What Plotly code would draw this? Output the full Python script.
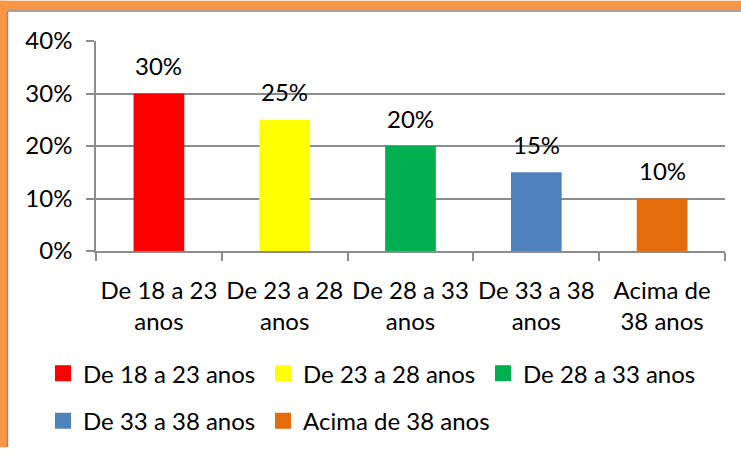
import plotly.graph_objects as go

categories = ["De 18 a 23 anos", "De 23 a 28 anos", "De 28 a 33 anos", "De 33 a 38 anos", "Acima de 38 anos"]
tick_labels = ["De 18 a 23<br>anos", "De 23 a 28<br>anos", "De 28 a 33<br>anos", "De 33 a 38<br>anos", "Acima de<br>38 anos"]
values = [0.30, 0.25, 0.20, 0.15, 0.10]
value_labels = ["30%", "25%", "20%", "15%", "10%"]
colors = ["#FF0000", "#FFFF00", "#00B050", "#4F81BD", "#E46C0A"]
legend_row = ["legend", "legend", "legend", "legend2", "legend2"]
legend_item_width = [None, None, 200, None, 200]
y_ticks = [0, 0.1, 0.2, 0.3, 0.4]
y_tick_labels = ["0%", "10%", "20%", "30%", "40%"]

W, H = 741, 455
ML, MR, MT, MB = 96, 16, 41, 200
PW, PH = W - ML - MR, H - MT - MB
FONT = "Lato"
FS = 24
GRID = "#8C8C8C"

def px2x(px):
    return (px - ML) / PW

def px2y(py):
    return (H - MB - py) / PH

fig = go.Figure()
for cat, lab, v, c in zip(categories, tick_labels, values, colors):
    fig.add_trace(go.Bar(x=[lab], y=[v], name=cat, marker=dict(color=c, line=dict(width=0)),
                         showlegend=False, hoverinfo="skip"))

# legend entries (square swatches)
for cat, c, lg, lw in zip(categories, colors, legend_row, legend_item_width):
    fig.add_trace(go.Scatter(x=[None], y=[None], mode="markers", name=cat, legend=lg,
                             legendwidth=lw,
                             marker=dict(symbol="square", size=16, color=c, line=dict(width=0)),
                             showlegend=True, hoverinfo="skip"))

for lab, v, t in zip(tick_labels, values, value_labels):
    fig.add_annotation(x=lab, y=v, text=t, showarrow=False, yanchor="middle",
                       yshift=28, font=dict(family=FONT, size=FS, color="#000000"))

shapes = [
    dict(type="rect", xref="paper", yref="paper", x0=px2x(0), x1=px2x(W), y0=px2y(10), y1=px2y(0),
         fillcolor="#F79646", line=dict(width=0), layer="above"),
    dict(type="rect", xref="paper", yref="paper", x0=px2x(0), x1=px2x(7), y0=px2y(H), y1=px2y(0),
         fillcolor="#F79646", line=dict(width=0), layer="above"),
    dict(type="line", xref="paper", yref="paper", x0=px2x(7.5), x1=px2x(W), y0=px2y(10.5), y1=px2y(10.5),
         line=dict(color=GRID, width=1.5), layer="above"),
    dict(type="line", xref="paper", yref="paper", x0=px2x(7.5), x1=px2x(7.5), y0=px2y(10.5), y1=px2y(H),
         line=dict(color=GRID, width=1.5), layer="above"),
]

legend_common = dict(orientation="h", xanchor="left", yanchor="top",
                     entrywidth=175, entrywidthmode="pixels", borderwidth=0,
                     bgcolor="rgba(0,0,0,0)",
                     font=dict(family=FONT, size=FS, color="#000000"), traceorder="normal")

fig.update_layout(
    width=W, height=H,
    margin=dict(l=ML, r=MR, t=MT, b=MB),
    paper_bgcolor="white", plot_bgcolor="white",
    barmode="overlay", bargap=0.597,
    font=dict(family=FONT, size=FS, color="#000000"),
    shapes=shapes,
    legend=dict(x=px2x(43), y=px2y(357), **legend_common),
    legend2=dict(x=px2x(43), y=px2y(405.5), **legend_common),
    xaxis=dict(type="category", categoryorder="array", categoryarray=tick_labels,
               range=[-0.5, 4.5],
               showline=True, linecolor=GRID, linewidth=1.5,
               ticks="outside", tickson="boundaries", ticklen=8, tickcolor=GRID, tickwidth=1.5,
               tickangle=0, showgrid=False, ticklabelstandoff=17,
               tickfont=dict(family=FONT, size=FS)),
    yaxis=dict(range=[0, 0.4], tickvals=y_ticks, ticktext=y_tick_labels,
               showline=True, linecolor=GRID, linewidth=1.5,
               ticks="outside", ticklen=8, tickcolor=GRID, tickwidth=1.5,
               showgrid=True, gridcolor=GRID, gridwidth=1.5, zeroline=False,
               ticklabelstandoff=9, tickfont=dict(family=FONT, size=FS)),
)

fig.write_html("out.html", config={"displayModeBar": False},
               post_script="document.body.style.margin='0';document.body.style.overflow='hidden';")
